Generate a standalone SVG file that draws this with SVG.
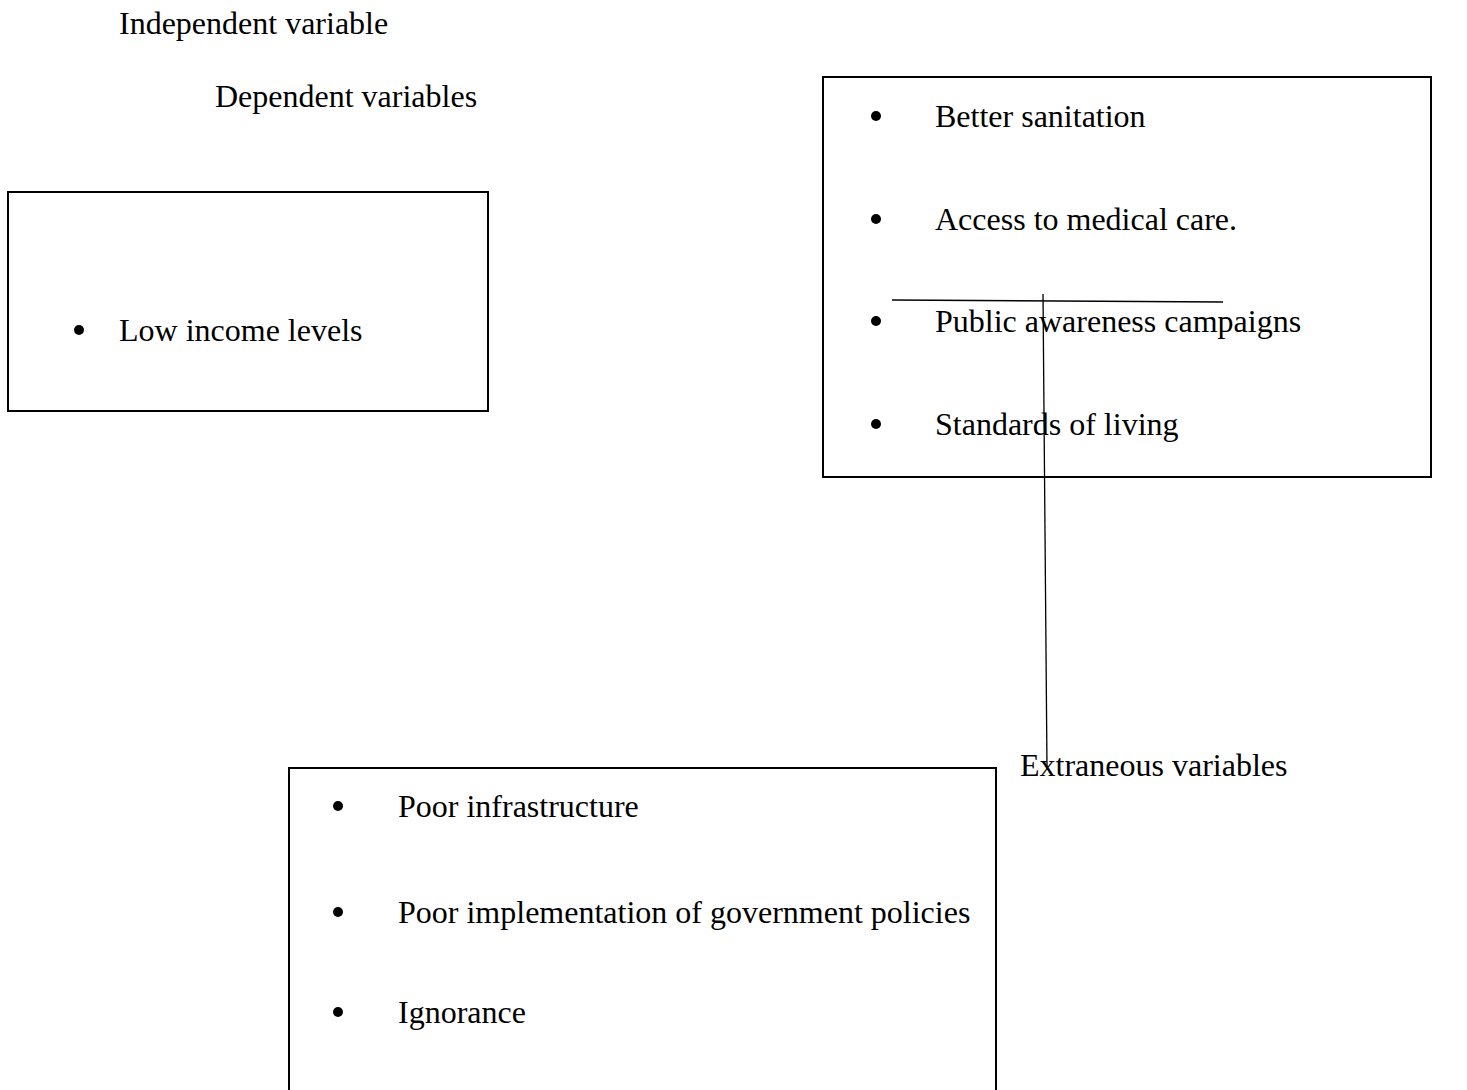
<svg xmlns="http://www.w3.org/2000/svg" width="1467" height="1090" viewBox="0 0 1467 1090">
<style>
text{font-family:"Liberation Serif","Times New Roman",serif;font-size:32px;fill:#000}
.box{fill:#fff;stroke:#000;stroke-width:2}
.ln{stroke:#000;stroke-width:1.3;fill:none}
</style>
<rect width="1467" height="1090" fill="#fff"/>
<g id="label-independent"><text x="119" y="34">Independent variable</text></g>
<g id="label-dependent"><text x="215" y="107">Dependent variables</text></g>
<g id="node-independent">
<rect class="box" x="8" y="192" width="480" height="219"/>
<circle cx="79" cy="330" r="5"/>
<text x="119" y="341">Low income levels</text>
</g>
<g id="node-dependent">
<rect class="box" x="823" y="77" width="608" height="400"/>
<circle cx="876" cy="116" r="5"/>
<text x="935" y="127">Better sanitation</text>
<circle cx="876" cy="219" r="5"/>
<text x="935" y="230">Access to medical care.</text>
<circle cx="876" cy="321" r="5"/>
<text x="935" y="332">Public awareness campaigns</text>
<circle cx="876" cy="424" r="5"/>
<text x="935" y="435">Standards of living</text>
</g>
<g id="label-extraneous"><text x="1020" y="776">Extraneous variables</text></g>
<g id="node-extraneous">
<rect class="box" x="289" y="768" width="707" height="340"/>
<circle cx="338" cy="806" r="5"/>
<text x="398" y="817">Poor infrastructure</text>
<circle cx="338" cy="912" r="5"/>
<text x="398" y="923">Poor implementation of government policies</text>
<circle cx="338" cy="1012" r="5"/>
<text x="398" y="1023">Ignorance</text>
</g>
<g id="connectors">
<line class="ln" x1="892" y1="300" x2="1223" y2="302"/>
<line class="ln" x1="1043" y1="294" x2="1047" y2="769"/>
</g>
</svg>
